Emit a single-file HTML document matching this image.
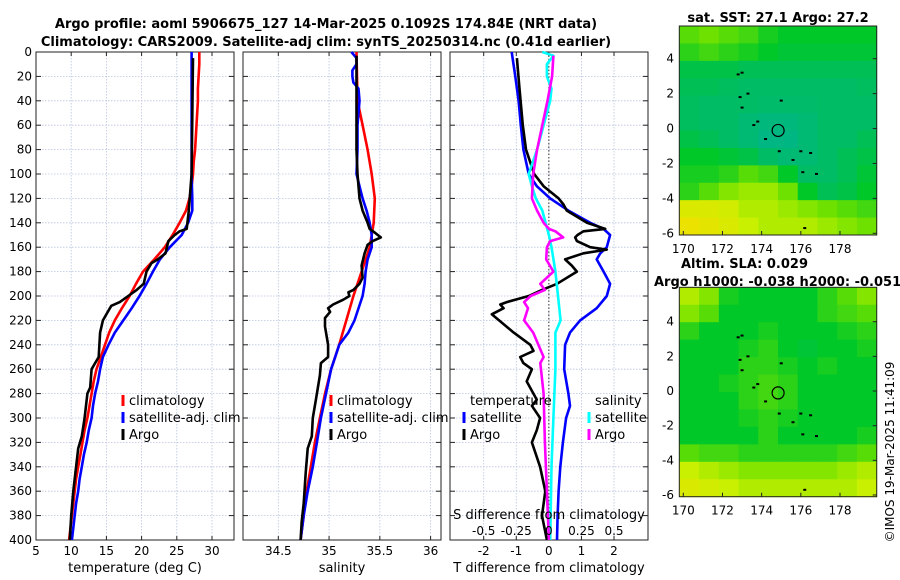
<!DOCTYPE html>
<html><head><meta charset="utf-8">
<style>
body{margin:0;background:#fff;}
svg{display:block;font-family:"DejaVu Sans","Liberation Sans",sans-serif;}
</style></head>
<body>
<svg id="fig" width="900" height="580" viewBox="0 0 900 580" xmlns="http://www.w3.org/2000/svg">
<text x="326" y="28" text-anchor="middle" font-size="13" font-weight="bold">Argo profile: aoml 5906675_127 14-Mar-2025 0.1092S 174.84E (NRT data)</text>
<text x="326" y="46" text-anchor="middle" font-size="13" font-weight="bold">Climatology: CARS2009. Satellite-adj clim: synTS_20250314.nc (0.41d earlier)</text>
<g id="root"></g>
</svg>
<script>
// ---------- data ----------
const depth10 = [0,10,20,30,40,50,60,70,80,90,100,110,120,130,140,150,160,170,180,190,200,210,220,230,240,250,260,270,280,290,300,310,320,330,340,350,360,370,380,390,400];
const tempClim = [28.2,28.2,28.1,28.0,28.0,27.9,27.8,27.7,27.6,27.4,27.3,27.1,26.8,26.3,25.4,24.4,23.3,21.8,20.2,19.2,18.3,17.2,16.2,15.4,14.8,14.2,13.6,13.2,12.9,12.6,12.3,11.9,11.6,11.3,11.0,10.7,10.5,10.3,10.1,9.9,9.7];
const tempSat = [27.1,27.1,27.1,27.1,27.1,27.1,27.1,27.1,27.1,27.1,27.1,27.15,27.2,27.2,26.6,25.7,24.0,22.6,21.6,20.7,19.7,18.6,17.4,16.2,15.3,14.5,14.1,13.8,13.4,13.1,12.9,12.5,12.2,11.8,11.5,11.2,11.0,10.7,10.5,10.3,10.1];
const argoTempDepth = [5,100,130,145,147,150,155,165,170,173,180,190,195,200,205,208,212,220,230,250,255,260,275,280,300,315,325,340,360,380,400];
const argoTemp = [27.3,27.1,26.7,26.4,25.4,24.7,23.8,23.4,22.3,21.4,20.7,20.3,19.3,18.1,16.9,15.7,15.3,14.5,14.1,13.9,13.4,12.9,12.7,12.3,11.9,11.5,11.0,10.7,10.3,10.0,9.8];

const salClimDepth = [0,40,60,80,100,120,140,160,180,200,220,240,260,280,300,320,340,360,380,400];
const salClim = [35.27,35.28,35.33,35.38,35.42,35.45,35.44,35.40,35.32,35.24,35.17,35.10,35.02,34.96,34.91,34.86,34.82,34.78,34.75,34.72];
const salSatDepth = [0,5,10,15,20,25,30,40,60,80,100,110,120,130,140,150,160,170,180,190,200,220,230,240,250,260,280,300,320,340,360,380,400];
const salSat = [35.22,35.27,35.27,35.23,35.23,35.24,35.29,35.30,35.28,35.28,35.27,35.30,35.33,35.37,35.40,35.42,35.42,35.38,35.36,35.35,35.33,35.25,35.19,35.10,35.06,35.02,34.97,34.92,34.88,34.84,34.79,34.75,34.72];
const argoSalDepth = [3,20,40,60,80,100,120,130,140,145,148,152,155,158,165,175,185,190,195,197,200,203,207,210,213,218,225,240,250,255,265,275,285,300,315,325,345,370,385,400];
const argoSal = [35.27,35.27,35.27,35.27,35.27,35.28,35.30,35.33,35.38,35.40,35.45,35.51,35.43,35.38,35.35,35.32,35.33,35.30,35.24,35.19,35.20,35.14,35.04,34.99,35.01,34.96,34.96,34.99,34.99,34.92,34.91,34.89,34.87,34.84,34.83,34.79,34.77,34.75,34.73,34.72];

const dTSatDepth = [0,20,40,60,80,100,110,120,130,140,145,150,160,165,170,180,190,200,210,220,230,240,260,280,290,300,320,340,360,380,400];
const dTSat = [-1.14,-1.03,-0.93,-0.86,-0.78,-0.62,-0.37,0.04,0.6,1.27,1.68,1.88,1.78,1.58,1.47,1.68,1.88,1.78,1.47,0.96,0.65,0.5,0.47,0.6,0.65,0.53,0.43,0.35,0.3,0.27,0.25];
const dTArgoDepth = [5,30,60,80,100,110,120,125,130,140,145,147,150,152,155,160,162,165,170,175,180,190,195,200,205,207,210,215,230,240,245,250,255,260,270,285,290,300,310,320,340,360,380,400];
const dTArgo = [-0.98,-0.9,-0.8,-0.7,-0.45,-0.16,0.3,0.45,0.55,1.17,1.73,1.06,0.88,0.81,0.86,1.27,1.78,1.06,0.5,0.7,0.86,0.25,-0.21,-0.62,-1.29,-1.49,-1.39,-1.75,-1.08,-0.57,-0.47,-0.88,-0.78,-0.52,-0.68,-0.37,-0.52,-0.27,-0.37,-0.52,-0.27,-0.11,-0.21,-0.06];
const dSSatDepth = [0,3,10,20,30,40,60,80,100,110,120,130,150,160,180,200,220,230,260,300,340,400];
const dSSat = [-0.05,0.035,-0.015,-0.015,0.02,0.01,-0.04,-0.09,-0.155,-0.13,-0.10,-0.05,0,0.02,0.05,0.07,0.09,0.05,0.05,0.035,0.02,0.01];
const dSArgoDepth = [3,20,40,60,80,100,120,130,140,145,147,152,155,160,170,180,190,195,200,205,210,220,230,250,255,280,320,360,400];
const dSArgo = [0.035,0.025,-0.01,-0.05,-0.09,-0.12,-0.13,-0.09,-0.04,0,0.05,0.11,0.01,-0.015,-0.02,0.035,-0.066,-0.03,-0.14,-0.19,-0.16,-0.19,-0.12,-0.04,-0.066,-0.04,-0.03,-0.015,0];

const depthTicks = [0,20,40,60,80,100,120,140,160,180,200,220,240,260,280,300,320,340,360,380,400];
const tempTicks = [5,10,15,20,25,30];
const salTicks = [34.5,35,35.5,36];
const dTTicks = [-2,-1,0,1,2];
const dSTicks = [-0.5,-0.25,0,0.25,0.5];
const dSTickLabels = ["-0.5","-0.25","0","0.25","0.5"];
const lonTicks = [170,172,174,176,178];
const latTicks = [4,2,0,-2,-4,-6];

const sstGrid = [
[0.5,0.55,0.5,0.45,0.35,0.3,0.3,0.3,0.3,0.3],
[0.4,0.45,0.4,0.35,0.3,0.25,0.25,0.25,0.25,0.25],
[0.2,0.2,0.2,0.15,0.15,0.15,0.15,0.15,0.15,0.15],
[0.15,0.15,0.12,0.1,0.1,0.1,0.1,0.1,0.1,0.12],
[0.12,0.1,0.1,0.1,0.08,0.08,0.08,0.1,0.1,0.1],
[0.12,0.1,0.1,0.05,0.02,0.02,0.05,0.1,0.1,0.1],
[0.2,0.15,0.1,0.05,0.0,0.0,0.05,0.1,0.1,0.15],
[0.3,0.3,0.25,0.2,0.1,0.05,0.05,0.1,0.15,0.2],
[0.35,0.35,0.4,0.5,0.45,0.3,0.1,0.1,0.15,0.25],
[0.4,0.5,0.6,0.65,0.65,0.55,0.3,0.15,0.2,0.3],
[0.85,0.85,0.8,0.7,0.7,0.65,0.6,0.55,0.5,0.45],
[0.95,0.9,0.85,0.75,0.7,0.7,0.7,0.65,0.6,0.55]];
const slaGrid = [
[0.7,0.6,0.35,0.3,0.3,0.3,0.3,0.4,0.5,0.6],
[0.6,0.5,0.3,0.3,0.3,0.3,0.3,0.4,0.45,0.5],
[0.4,0.3,0.3,0.3,0.35,0.3,0.3,0.3,0.35,0.4],
[0.3,0.3,0.3,0.35,0.4,0.3,0.25,0.3,0.3,0.35],
[0.3,0.3,0.3,0.4,0.4,0.35,0.3,0.35,0.3,0.3],
[0.3,0.3,0.35,0.4,0.45,0.4,0.3,0.3,0.3,0.3],
[0.3,0.3,0.3,0.4,0.45,0.4,0.3,0.3,0.3,0.3],
[0.3,0.3,0.3,0.35,0.4,0.35,0.3,0.3,0.3,0.3],
[0.3,0.3,0.3,0.3,0.4,0.3,0.3,0.3,0.3,0.35],
[0.5,0.45,0.45,0.4,0.4,0.4,0.4,0.4,0.45,0.5],
[0.75,0.7,0.65,0.6,0.6,0.6,0.6,0.6,0.65,0.7],
[0.85,0.8,0.75,0.7,0.7,0.7,0.7,0.7,0.7,0.75]];
const islandLon = [172.8,173.0,172.9,173.3,173.0,173.6,173.8,174.2,174.9,175.6,176.0,176.5,176.8,176.1,176.2,175.0];
const islandLat = [3.1,3.2,1.8,2.0,1.2,0.2,0.4,-0.6,-1.3,-1.8,-1.3,-1.4,-2.6,-2.5,-5.7,1.6];
const argoLon = 174.84, argoLat = -0.1092;

// ---------- helpers ----------
const NS = "http://www.w3.org/2000/svg";
const root = document.getElementById('root');
function el(tag, attrs, parent){ const e=document.createElementNS(NS,tag); for(const k in attrs) e.setAttribute(k,attrs[k]); (parent||root).appendChild(e); return e; }
function txt(x,y,s,size,anchor,parent){ const t=el('text',{x:x,y:y,'font-size':size||12,'text-anchor':anchor||'middle'},parent); t.textContent=s; return t; }

const Y0=52, Y1=540;
const yD = d => Y0 + (d/400)*(Y1-Y0);
function linear(d0,d1,r0,r1){ return v => r0 + (v-d0)/(d1-d0)*(r1-r0); }

function panel(name,x0,x1,xs,ticks,labels,title,drawDepthLabels){
  const g=el('g',{});
  
  
  ticks.forEach((t,i)=>{
    el('line',{x1:xs(t),x2:xs(t),y1:Y0,y2:Y1,stroke:'#b8c4e0','stroke-width':0.8,'stroke-dasharray':'1.5 1.5'},g);
    const tl=txt(xs(t),555,labels[i],12,'middle',g);
    
    
    el('line',{x1:xs(t),x2:xs(t),y1:Y1,y2:Y1-4,stroke:'#222'},g);
    el('line',{x1:xs(t),x2:xs(t),y1:Y0,y2:Y0+4,stroke:'#222'},g);
  });
  depthTicks.forEach(d=>{
    if(d>0&&d<400) el('line',{x1:x0,x2:x1,y1:yD(d),y2:yD(d),stroke:'#b8c4e0','stroke-width':0.8,'stroke-dasharray':'1.5 1.5'},g);
    el('line',{x1:x0,x2:x0+5,y1:yD(d),y2:yD(d),stroke:'#222'},g);
    el('line',{x1:x1-5,x2:x1,y1:yD(d),y2:yD(d),stroke:'#222'},g);
    if(drawDepthLabels){ const l=txt(x0-4,yD(d)+4,String(d),12,'end',g);
      
       }
  });
  el('rect',{x:x0,y:Y0,width:x1-x0,height:Y1-Y0,fill:'none',stroke:'#222','stroke-width':1},g);
  const at=txt((x0+x1)/2,572,title,13,'middle',g);
  
  
  return g;
}
function series(name,xs,vals,depths,color){
  const pts=vals.map((v,i)=>xs(v).toFixed(1)+','+yD(depths[i]).toFixed(1)).join(' ');
  const p=el('polyline',{points:pts,fill:'none',stroke:color,'stroke-width':2.6,'stroke-linejoin':'round'});
  
  
}
function legend(x,y,color,label,name){
  const m=el('rect',{x:x-1.5,y:y-10,width:3,height:11,fill:color});
  const t=txt(x+6,y,label,13,'start');
  
  
}

// ---------- panel 1: temperature ----------
const xT = linear(5,30,36,212);
panel('temperature-panel',36,234,xT,tempTicks,tempTicks.map(String),'temperature (deg C)',true);
series('temp-climatology-line',xT,tempClim,depth10,'#f00');
series('temp-satellite-line',xT,tempSat,depth10,'#00f');
series('temp-argo-line',xT,argoTemp,argoTempDepth,'#000');
legend(123,405,'#f00','climatology','legend-climatology');
legend(123,422,'#00f','satellite-adj. clim','legend-satellite');
legend(123,439,'#000','Argo','legend-argo');

// ---------- panel 2: salinity ----------
const xS = linear(34.5,36,278.3,430.6);
panel('salinity-panel',243,441,xS,salTicks,salTicks.map(String),'salinity',false);
series('sal-climatology-line',xS,salClim,salClimDepth,'#f00');
series('sal-satellite-line',xS,salSat,salSatDepth,'#00f');
series('sal-argo-line',xS,argoSal,argoSalDepth,'#000');
legend(331,405,'#f00','climatology','legend-climatology-sal');
legend(331,422,'#00f','satellite-adj. clim','legend-satellite-sal');
legend(331,439,'#000','Argo','legend-argo-sal');

// ---------- panel 3: differences ----------
const xdT = linear(-2,2,483.7,614);
const xdS = s => xdT(s*4);
panel('difference-panel',450,648,xdT,dTTicks,dTTicks.map(String),'T difference from climatology',false);
el('line',{x1:xdT(0),x2:xdT(0),y1:Y0,y2:Y1,stroke:'#333','stroke-width':1,'stroke-dasharray':'1.5 2'});
series('dT-satellite-line',xdT,dTSat,dTSatDepth,'#00f');
series('dT-argo-line',xdT,dTArgo,dTArgoDepth,'#000');
series('dS-satellite-line',xdS,dSSat,dSSatDepth,'#0ff');
series('dS-argo-line',xdS,dSArgo,dSArgoDepth,'#f0f');
{ const t=txt(549,519,'S difference from climatology',13,'middle');
  
  
  dSTicks.forEach((s,i)=>{ const l=txt(xdS(s),535,dSTickLabels[i],12,'middle');
    
     });
  const a=txt(470,405,'temperature',13,'start');  
  const b=txt(595,405,'salinity',13,'start');  
}
legend(464,422,'#00f','satellite','legend-dT-satellite');
legend(464,439,'#000','Argo','legend-dT-argo');
legend(589,422,'#0ff','satellite','legend-dS-satellite');
legend(589,439,'#f0f','Argo','legend-dS-argo');

// ---------- maps ----------
const cmapStops=[[0,[0,182,130]],[0.3,[0,200,40]],[0.55,[110,225,0]],[0.75,[200,240,0]],[1,[245,222,0]]];
function cmap(v){ for(let i=1;i<cmapStops.length;i++){ if(v<=cmapStops[i][0]){ const a=cmapStops[i-1],b=cmapStops[i],f=(v-a[0])/(b[0]-a[0]); return 'rgb('+a[1].map((c,j)=>Math.round(c+(b[1][j]-c)*f)).join(',')+')'; } } return 'rgb(245,222,0)'; }
function map(name,grid,top,bot,lat4y,latm6y){
  const g=el('g',{});
  
  
  const xL=linear(170,178,683.3,840), yL=linear(4,-6,lat4y,latm6y);
  const lonMin=169.8, lonMax=179.87, latMax=4+(lat4y-top)/((latm6y-lat4y)/10), latMin=-6-(bot-latm6y)/((latm6y-lat4y)/10);
  const nr=grid.length, nc=grid[0].length;
  grid.forEach((row,r)=>row.forEach((v,c)=>{
    const lo0=lonMin+(lonMax-lonMin)*c/nc, lo1=lonMin+(lonMax-lonMin)*(c+1)/nc;
    const la0=latMax-(latMax-latMin)*r/nr, la1=latMax-(latMax-latMin)*(r+1)/nr;
    const cell=el('rect',{x:xL(lo0),y:yL(la0),width:xL(lo1)-xL(lo0)+0.5,height:yL(la1)-yL(la0)+0.5,fill:cmap(v)},g);
    
    
  }));
  islandLon.forEach((lo,i)=>{ const d=el('rect',{x:xL(lo)-1.5,y:yL(islandLat[i])-1,width:3,height:2,fill:'#000'},g);
    
     });
  const c=el('circle',{cx:xL(argoLon),cy:yL(argoLat),r:6,fill:'none',stroke:'#000','stroke-width':1.2},g);
  
  
  el('rect',{x:679.3,y:top,width:197.4,height:bot-top,fill:'none',stroke:'#222'},g);
  lonTicks.forEach(l=>{ el('line',{x1:xL(l),x2:xL(l),y1:bot,y2:bot-4,stroke:'#222'},g);
    const t=txt(xL(l),bot+18,String(l),12,'middle',g);   });
  latTicks.forEach(l=>{ el('line',{x1:876.7,x2:872.7,y1:yL(l),y2:yL(l),stroke:'#222'},g);
    const t=txt(674,yL(l)+4,String(l),12,'end',g);   });
}
map('sst-map',sstGrid,26,235,58.7,233.3);
map('sla-map',slaGrid,287.3,496.7,321.7,495);
{ const a=txt(778,22,'sat. SST: 27.1 Argo: 27.2',13,'middle'); a.setAttribute('font-weight','bold');  
  const b=txt(681,268,'Altim. SLA: 0.029',13,'start'); b.setAttribute('font-weight','bold');  
  const c=txt(654,286,'Argo h1000: -0.038 h2000: -0.051',13,'start'); c.setAttribute('font-weight','bold');  
  const d=txt(0,0,'©IMOS 19-Mar-2025 11:41:09',12,'middle'); d.setAttribute('transform','translate(894,452) rotate(-90)');  
}
</script>
</body></html>
